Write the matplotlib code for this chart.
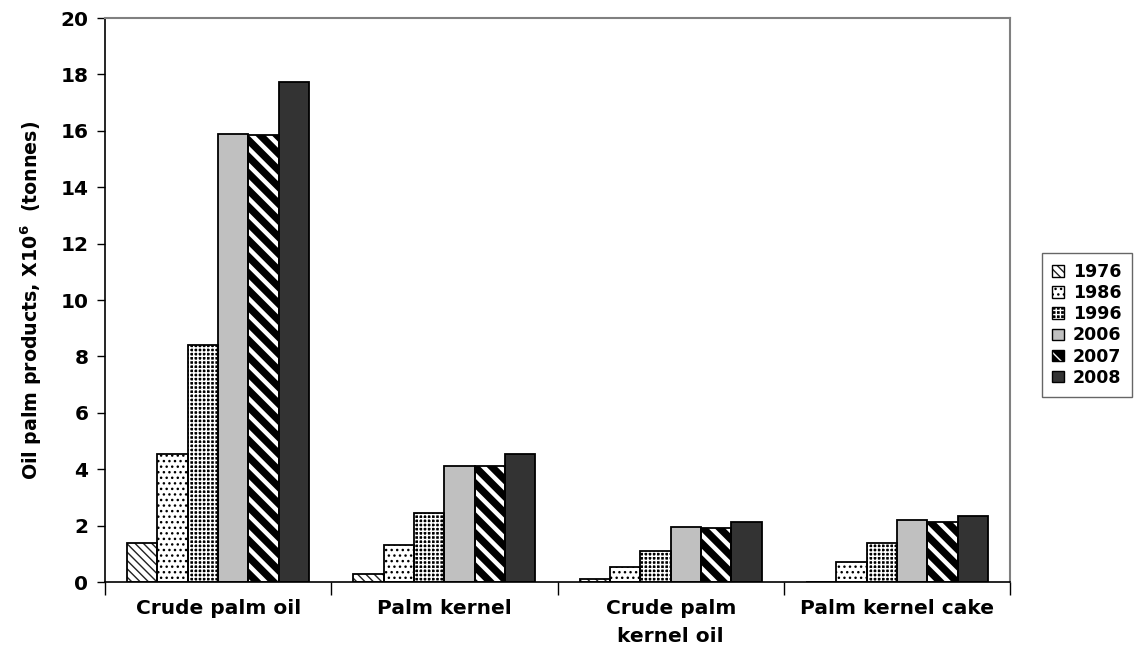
import numpy as np
import matplotlib
matplotlib.use('Agg')
import matplotlib.pyplot as plt
from matplotlib.patches import Patch
from matplotlib.legend_handler import HandlerTuple

plt.rcParams['font.family'] = ['DejaVu Sans']
plt.rcParams['font.weight'] = 'bold'
plt.rcParams['mathtext.fontset'] = 'dejavusans'

categories = ['Crude palm oil', 'Palm kernel', 'Crude palm\nkernel oil', 'Palm kernel cake']
years = ['1976', '1986', '1996', '2006', '2007', '2008']
values = {
    '1976': [1.4, 0.27, 0.1, 0.0],
    '1986': [4.55, 1.33, 0.55, 0.7],
    '1996': [8.4, 2.45, 1.1, 1.4],
    '2006': [15.9, 4.1, 1.95, 2.2],
    '2007': [15.85, 4.1, 1.9, 2.12],
    '2008': [17.75, 4.55, 2.12, 2.35],
}

# face, hatch colour, hatch, hatch linewidth
styles = {
    '1976': ('white', '#222222', '\\\\\\\\', 1.0),
    '1986': ('white', 'black', '...', 1.0),
    '1996': ('black', 'white', '++++', 1.1),
    '2006': ('#c0c0c0', None, None, 1.0),
    '2007': ('black', 'white', '\\\\', 3.2),
    '2008': ('#333333', None, None, 1.0),
}

fig = plt.figure(figsize=(11.4, 6.69), dpi=100)
ax = fig.add_axes([0.0921, 0.130, 0.794, 0.843])

x = np.arange(len(categories))
width = 0.134
handles = []
for i, yr in enumerate(years):
    face, hc, hatch, hlw = styles[yr]
    pos = x + (i - 2.5) * width
    if hatch:
        b = ax.bar(pos, values[yr], width, color=face, edgecolor=hc, hatch=hatch, linewidth=0, zorder=2)
        for p in b:
            if hasattr(p, 'set_hatch_linewidth'):
                p.set_hatch_linewidth(hlw)
        hp = Patch(facecolor=face, edgecolor=hc, hatch=hatch, linewidth=0)
        if hasattr(hp, 'set_hatch_linewidth'):
            hp.set_hatch_linewidth(hlw)
    else:
        ax.bar(pos, values[yr], width, color=face, linewidth=0, zorder=2)
        hp = Patch(facecolor=face, linewidth=0)
    ax.bar(pos, values[yr], width, fill=False, edgecolor='black', linewidth=1.3, zorder=3)
    op = Patch(fill=False, edgecolor='black', linewidth=1.0)
    handles.append((hp, op))

ax.set_xlim(-0.5, 3.5)
ax.set_ylim(0, 20)
ax.set_yticks(np.arange(0, 21, 2))
ax.set_xticks(x)
ax.set_xticklabels(categories, fontsize=14.5, fontweight='bold', va='top', linespacing=1.6)
ax.tick_params(axis='x', length=0, pad=12)
ax.set_xticks(np.arange(-0.5, 4, 1), minor=True)
ax.tick_params(axis='x', which='minor', length=9, width=1, direction='out')
ax.tick_params(axis='y', length=6, width=1, direction='out', labelsize=14.5, pad=6)

for s in ['left', 'bottom']:
    ax.spines[s].set_color('black')
    ax.spines[s].set_linewidth(1.2)
for s in ['top', 'right']:
    ax.spines[s].set_color('#808080')
    ax.spines[s].set_linewidth(1.5)

ax.set_ylabel(r'Oil palm products, X10$^{\mathbf{6}}$  (tonnes)', fontsize=13.7, fontweight='bold', labelpad=12)

leg = ax.legend(handles, years, handler_map={tuple: HandlerTuple(ndivide=1, pad=0)},
                loc='center left', bbox_to_anchor=(1.035, 0.456), borderaxespad=0,
                fontsize=12.5, handlelength=0.65, handleheight=0.65, handletextpad=0.55,
                labelspacing=0.18, borderpad=0.6, frameon=True, fancybox=False)
leg.get_frame().set_edgecolor('#404040')
leg.get_frame().set_linewidth(1.0)

fig.savefig('out.png', dpi=100)
